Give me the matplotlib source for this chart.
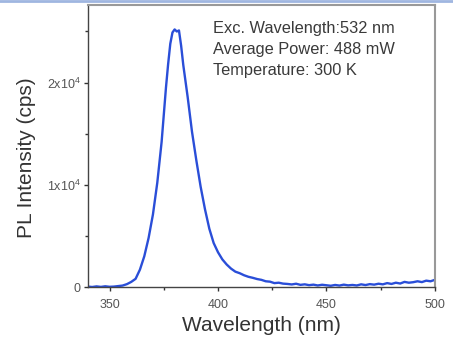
import matplotlib
matplotlib.use("Agg")
import matplotlib.pyplot as plt
from matplotlib.ticker import FixedLocator, MultipleLocator, FixedFormatter
from matplotlib.lines import Line2D

plt.rcParams['font.family'] = ['Liberation Sans', 'DejaVu Sans']
plt.rcParams['mathtext.fontset'] = 'custom'
plt.rcParams['mathtext.rm'] = 'Liberation Sans'
plt.rcParams['mathtext.default'] = 'regular'

# Data (wavelength in nm, PL intensity in cps)
wavelength = [340, 342, 344, 346, 348, 350, 352, 354, 356, 358, 360, 362, 364, 366,
              368, 370, 372, 374, 376, 377, 378, 379, 380, 381, 382, 383, 384, 386,
              388, 390, 392, 394, 396, 398, 400, 402, 404, 406, 408, 410, 412,
              414, 416, 418, 420, 422, 424, 426, 428, 430, 432, 434, 436, 438,
              440, 442, 444, 446, 448, 450, 452, 454, 456, 458, 460, 462, 464,
              466, 468, 470, 472, 474, 476, 478, 480, 482, 484, 486, 488, 490,
              492, 494, 496, 498, 500]
intensity = [40, 0, 60, 10, 70, 20, 40, 90, 140, 280, 500, 800, 1700, 3000,
             4800, 7100, 10200, 14200, 19500, 21800, 23800, 24900, 25200, 25000, 25100, 23600, 21700, 18600,
             15200, 12400, 9800, 7600, 5700, 4300, 3400, 2700, 2200, 1800, 1500, 1350, 1150,
             1000, 900, 780, 700, 560, 520, 380, 420, 330, 300, 250, 320, 210,
             260, 180, 230, 150, 220, 170, 120, 200, 140, 230, 160, 200, 150,
             260, 190, 280, 230, 320, 260, 380, 300, 420, 340, 500, 420, 470,
             560, 480, 620, 560, 700]

x_ticks = [350, 400, 450, 500]
y_ticks = [0, 10000, 20000]
y_tick_labels = ["0", r"1x10$^4$", r"2x10$^4$"]
annotation_lines = ["Exc. Wavelength:532 nm", "Average Power: 488 mW", "Temperature: 300 K"]

fig = plt.figure(figsize=(4.53, 3.5), dpi=100)
ax = fig.add_axes([0.194, 0.18, 0.766, 0.806])

ax.plot(wavelength, intensity, color="#2a4ed8", lw=1.7)

ax.set_xlim(340, 500)
ax.set_ylim(0, 27600)

ax.xaxis.set_major_locator(FixedLocator(x_ticks))
ax.xaxis.set_minor_locator(MultipleLocator(25))
ax.yaxis.set_major_locator(FixedLocator(y_ticks))
ax.yaxis.set_major_formatter(FixedFormatter(y_tick_labels))
ax.yaxis.set_minor_locator(MultipleLocator(5000))

ax.tick_params(which="major", direction="out", length=3, width=1, colors="#333333",
               labelcolor="#555555")
ax.tick_params(axis="x", which="major", labelsize=9, pad=6)
ax.tick_params(axis="y", which="major", labelsize=9, pad=2)
ax.tick_params(which="minor", direction="out", length=2, width=1, colors="#333333")
ax.tick_params(top=False, right=False, which="both")

for s in ["left", "bottom"]:
    ax.spines[s].set_color("#444444")
    ax.spines[s].set_linewidth(1.0)
for s in ["top", "right"]:
    ax.spines[s].set_color("#999999")
    ax.spines[s].set_linewidth(1.5)

ax.set_xlabel("Wavelength (nm)", fontsize=15, color="#333333", labelpad=3)
ax.set_ylabel("PL Intensity (cps)", fontsize=15, color="#333333", labelpad=2)
ax.yaxis.set_label_coords(-0.15, 0.46)

for i, t in enumerate(annotation_lines):
    ax.text(0.36, 0.918 - i * 0.075, t, transform=ax.transAxes, fontsize=11.8,
            color="#3a3a3a", va="center", ha="left")

# light blue band across the top of the picture
fig.add_artist(Line2D([0, 1], [0.997, 0.997], transform=fig.transFigure,
                      color="#9fb6e0", lw=2))

fig.savefig("out.png", dpi=100)
